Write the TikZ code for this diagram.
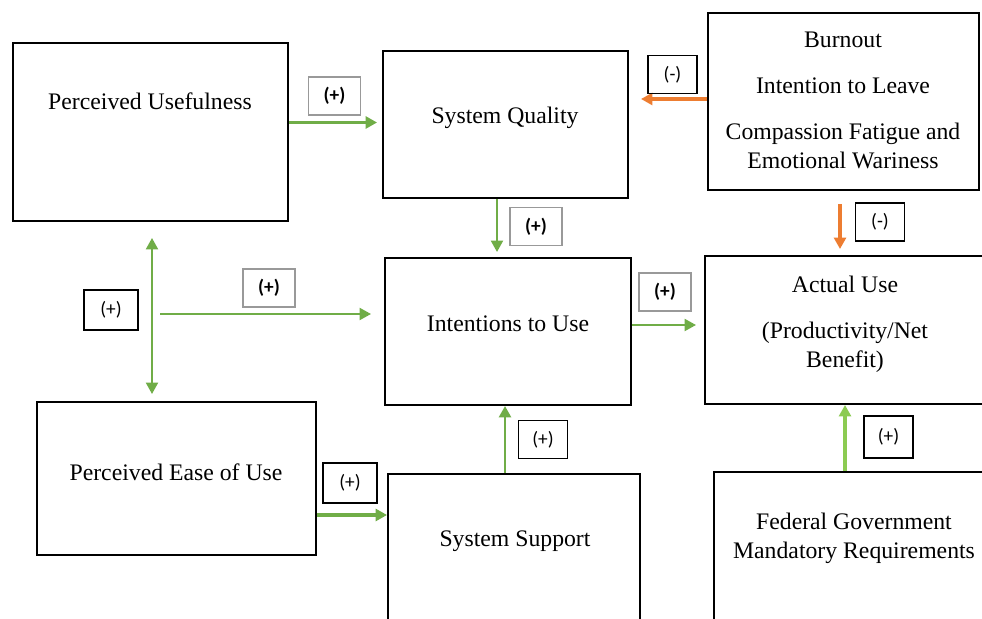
\documentclass[tikz,border=0pt]{standalone}
\usepackage{fontspec}
\setmainfont{Liberation Serif}
\newfontfamily\signfont{Carlito}
\usetikzlibrary{arrows.meta}

\definecolor{arrowgreen}{HTML}{70AD47}
\definecolor{lightgreen}{HTML}{8CCB52}
\definecolor{arroworange}{HTML}{ED7D31}

\tikzset{
  block/.style={draw=black, line width=1.1pt, rectangle},
  blocktext/.style={align=center, font=\fontsize{13.5}{16.5}\selectfont},
  signbox/.style={draw=black, line width=0.7pt, minimum width=0.98cm, minimum height=0.76cm,
    inner sep=0pt, font=\signfont\fontsize{11}{13}\selectfont},
  signboxg/.style={draw=gray!80, line width=0.8pt, minimum width=1.04cm, minimum height=0.76cm,
    inner sep=0pt, font=\signfont\bfseries\fontsize{11}{13}\selectfont},
  link/.style={draw=arrowgreen, line width=1.3pt, -{Triangle[length=2.3mm,width=2.4mm]}},
  neglink/.style={draw=arroworange, line width=1.8pt, -{Triangle[length=2.3mm,width=2.4mm]}}
}

\begin{document}
\begin{tikzpicture}
    \useasboundingbox (0,0) rectangle (19.64,-12.36);
    \clip (0,0) rectangle (19.64,-12.36);

    % boxes
    \node[block, minimum width=5.5cm, minimum height=3.56cm] (pu) at (3.01,-2.64) {};
    \node[block, minimum width=4.9cm, minimum height=2.94cm] (sq) at (10.11,-2.49) {};
    \node[block, minimum width=5.42cm, minimum height=3.54cm] (bo) at (16.87,-2.03) {};
    \node[block, minimum width=4.92cm, minimum height=2.94cm] (iu) at (10.16,-6.63) {};
    \node[block, minimum width=5.9cm, minimum height=2.96cm] (au) at (17.05,-6.60) {};
    \node[block, minimum width=5.58cm, minimum height=3.06cm] (peu) at (3.53,-9.57) {};
    \node[block, minimum width=5.04cm, minimum height=3.32cm] (ss) at (10.28,-11.14) {};
    \node[block, minimum width=5.72cm, minimum height=3.36cm] (fg) at (17.14,-11.12) {};

    % texts
    \node[blocktext] (pu-t) at (3.0,-2.02) {Perceived Usefulness};
    \node[blocktext] (sq-t) at (10.1,-2.36) {System Quality};
    \node[blocktext] (bo-t) at (16.86,-2.0) {Burnout\\[9.7pt]Intention to Leave\\[9.7pt]Compassion Fatigue and\\Emotional Wariness};
    \node[blocktext] (iu-t) at (10.16,-6.48) {Intentions to Use};
    \node[blocktext] (au-t) at (16.9,-6.48) {Actual Use\\[9.7pt](Productivity/Net\\Benefit)};
    \node[blocktext] (peu-t) at (3.52,-9.44) {Perceived Ease of Use};
    \node[blocktext] (ss-t) at (10.3,-10.82) {System Support};
    \node[blocktext] (fg-t) at (17.08,-10.76) {Federal Government\\Mandatory Requirements};

    % connectors
    \coordinate (fork) at (3.2,-6.28);
    \draw[link, line width=2pt, shorten >=1mm] ([yshift=1.9mm]pu.east) -- ([yshift=1.9mm]pu.east -| sq.west);
    \draw[link, shorten >=1mm] ([xshift=-1.7mm]sq.south) -- ([xshift=-1.7mm]sq.south |- iu.north);
    \draw[neglink, shorten >=2.4mm] ([yshift=0.5mm]bo.west) -- ([yshift=0.5mm]bo.west -| sq.east);
    \draw[neglink, shorten <=2.6mm, shorten >=1.2mm] ([xshift=-0.7mm]bo.south) -- ([xshift=-0.7mm]bo.south |- au.north);
    \draw[link, {Triangle[length=2.3mm,width=2.4mm]}-{Triangle[length=2.3mm,width=2.4mm]}, shorten <=3.2mm, shorten >=1.4mm]
        ([xshift=0.3mm]pu.south) -- ([xshift=0.3mm]pu.south |- peu.north);
    \draw[link, shorten >=2.6mm] (fork) -- (fork -| iu.west);
    \draw[link, shorten >=1.6mm] ([yshift=1.3mm]iu.east) -- ([yshift=1.3mm]iu.east -| au.west);
    \draw[link, line width=1.6pt] ([xshift=-1.8mm]ss.north) -- ([xshift=-1.8mm]ss.north |- iu.south);
    \draw[link, line width=2.2pt] ([yshift=-7.3mm]peu.east) -- ([yshift=-7.3mm]peu.east -| ss.west);
    \draw[link, draw=lightgreen, line width=1.8pt] ([xshift=-2.4mm]fg.north) -- ([xshift=-2.4mm]fg.north |- au.south);

    % signs
    \node[signboxg] (s-pusq) at (6.69,-1.92) {(+)};
    \node[signboxg] (s-sqiu) at (10.72,-4.53) {(+)};
    \node[signbox] (s-bosq) at (13.45,-1.49) {(-)};
    \node[signbox] (s-boau) at (17.6,-4.44) {(-)};
    \node[signbox, minimum width=1.08cm, minimum height=0.8cm] (s-bi) at (2.22,-6.2) {(+)};
    \node[signboxg] (s-fork) at (5.38,-5.76) {(+)};
    \node[signboxg] (s-iuau) at (13.3,-5.84) {(+)};
    \node[signbox] (s-ssiu) at (10.86,-8.79) {(+)};
    \node[signbox, minimum width=1.08cm, minimum height=0.8cm] (s-peuss) at (7.0,-9.66) {(+)};
    \node[signbox, minimum height=0.84cm] (s-fgau) at (17.77,-8.74) {(+)};
\end{tikzpicture}
\end{document}
